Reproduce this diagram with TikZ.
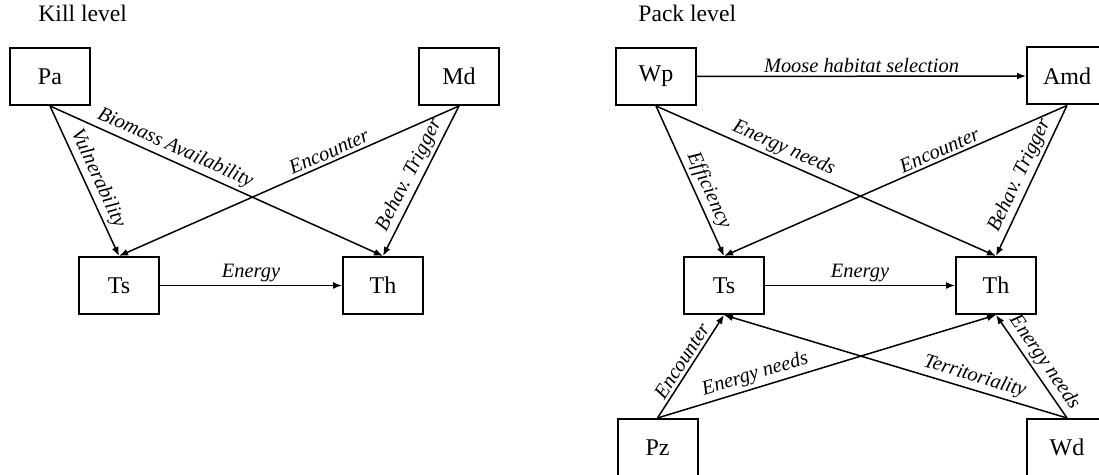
\documentclass[tikz,border=0pt]{standalone}
\usepackage{fontspec}
\setmainfont{Liberation Serif}
\usetikzlibrary{arrows.meta}

\begin{document}
\begin{tikzpicture}[x=0.5pt, y=-0.5pt,
    box/.style={draw, line width=1pt, minimum width=40pt, minimum height=28.5pt, inner sep=0pt, font=\fontsize{12}{14}\selectfont},
    lab/.style={sloped, above, inner sep=1.5pt, font=\fontsize{10.2}{12}\selectfont\itshape},
    title/.style={anchor=base west, inner sep=0pt, font=\fontsize{11.8}{14}\selectfont},
    edge/.style={line width=0.75pt, -{Latex[length=4.5pt,width=3.5pt]}}]
    \clip (0,0) rectangle (1099,475);
    % kill level
    \node[title] (kill) at (38,22) {Kill level};
    \node[box] (pa)  at (50,76.5)   {Pa};
    \node[box] (md)  at (459,76.5)  {Md};
    \node[box] (tsk) at (119,285.5) {Ts};
    \node[box] (thk) at (383,285.5) {Th};
    \foreach \i/\j/\p/\t in {
      pa/tsk/0.52/Vulnerability, pa/thk/0.36/Biomass Availability,
      md/tsk/0.37/Encounter, md/thk/0.5/Behav. Trigger}
      \draw[edge] (\i.south) -- node[lab, pos=\p] {\t} (\j.north);
    \draw[edge] (tsk) -- node[lab] {Energy} (thk);
    % pack level
    \node[title] (pack) at (638,22) {Pack level};
    \node[box] (wp)  at (656,76.5)   {Wp};
    \node[box] (amd) at (1067,76)    {Amd};
    \node[box] (tsp) at (724,285.5)  {Ts};
    \node[box] (thp) at (996,285.5)  {Th};
    \node[box] (pz)  at (657.5,447.5) {Pz};
    \node[box] (wd)  at (1067,447.5) {Wd};
    \draw[edge] (wp) -- node[lab] {Moose habitat selection} (amd);
    \foreach \i/\j/\p/\t in {
      wp/tsp/0.6/Efficiency, wp/thp/0.36/Energy needs,
      amd/tsp/0.36/Encounter, amd/thp/0.5/Behav. Trigger}
      \draw[edge] (\i.south) -- node[lab, pos=\p] {\t} (\j.north);
    \draw[edge] (tsp) -- node[lab] {Energy} (thp);
    \foreach \i/\j/\p/\t in {
      pz/tsp/0.5/Encounter, pz/thp/0.3/Energy needs,
      wd/tsp/0.28/Territoriality, wd/thp/0.47/Energy needs}
      \draw[edge] (\i.north) -- node[lab, pos=\p] {\t} (\j.south);
\end{tikzpicture}
\end{document}
